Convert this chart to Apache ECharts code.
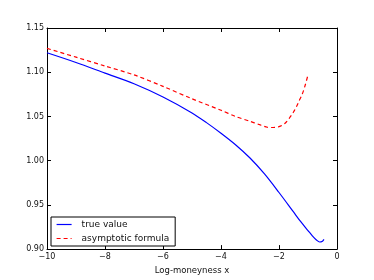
<!DOCTYPE html>
<html><head><meta charset="utf-8">
<script src="https://cdn.jsdelivr.net/npm/echarts@6/dist/echarts.min.js"></script>
<style>html,body{margin:0;padding:0;background:#fff}#c{width:374px;height:280px}</style>
</head><body><div id="c"></div>
<script>
var seriesNames = ['true value', 'asymptotic formula'];
var trueX = [-10, -9, -8, -7, -6, -5, -4.5, -4, -3.5, -3, -2.5, -2, -1.5, -1.25, -1, -0.85, -0.7, -0.6, -0.5, -0.45];
var trueY = [1.122, 1.111, 1.099, 1.087, 1.072, 1.054, 1.043, 1.031, 1.018, 1.003, 0.985, 0.964, 0.942, 0.931, 0.921, 0.915, 0.910, 0.908, 0.909, 0.911];
var asymX = [-10, -9, -8, -7, -6, -5, -4, -3.5, -3, -2.7, -2.4, -2.2, -2.0, -1.8, -1.6, -1.5, -1.4, -1.3, -1.2, -1.1, -1.0];
var asymY = [1.127, 1.117, 1.107, 1.097, 1.084, 1.070, 1.057, 1.050, 1.0445, 1.041, 1.0378, 1.0375, 1.0385, 1.042, 1.050, 1.055, 1.061, 1.068, 1.075, 1.085, 1.097];
var xLabel = 'Log-moneyness x';

function pairs(xs, ys){ return xs.map(function(x,i){ return [x, ys[i]]; }); }
var FONT = 'DejaVu Sans';
var chart = echarts.init(document.getElementById('c'), null, {renderer:'canvas'});
var tickCommon = {show:true, inside:true, length:4, lineStyle:{color:'#000', width:1}};
chart.setOption({
  animation:false,
  backgroundColor:'#fff',
  grid:{left:47, top:28, width:290, height:223, containLabel:false},
  xAxis:[{
    type:'value', min:-10, max:0, interval:2, position:'bottom',
    name:xLabel, nameLocation:'middle', nameGap:15,
    nameTextStyle:{fontFamily:FONT, fontSize:8.5, color:'#111'},
    axisLine:{show:true, onZero:false, lineStyle:{color:'#000', width:1}},
    axisTick:tickCommon,
    axisLabel:{fontFamily:FONT, fontSize:8, color:'#111', margin:4,
      formatter:function(v){ return v < 0 ? '\u2212' + Math.abs(v) : String(v); }},
    splitLine:{show:false}
  },{
    type:'value', min:-10, max:0, interval:2, position:'top',
    axisLine:{show:true, onZero:false, lineStyle:{color:'#000', width:1}},
    axisTick:tickCommon, axisLabel:{show:false}, splitLine:{show:false}
  }],
  yAxis:[{
    type:'value', min:0.90, max:1.15, interval:0.05, position:'left',
    axisLine:{show:true, onZero:false, lineStyle:{color:'#000', width:1}},
    axisTick:tickCommon,
    axisLabel:{fontFamily:FONT, fontSize:8, color:'#111', margin:3,
      formatter:function(v){ return v.toFixed(2); }},
    splitLine:{show:false}
  },{
    type:'value', min:0.90, max:1.15, interval:0.05, position:'right',
    axisLine:{show:true, onZero:false, lineStyle:{color:'#000', width:1}},
    axisTick:tickCommon, axisLabel:{show:false}, splitLine:{show:false}
  }],
  legend:{
    orient:'vertical', left:51, top:217, padding:[3,6,3,5],
    borderColor:'#000', borderWidth:1, backgroundColor:'#fff',
    itemWidth:15, itemHeight:8, itemGap:5,
    itemStyle:{opacity:0},
    lineStyle:{width:1.2},
    textStyle:{fontFamily:FONT, fontSize:9, color:'#111', padding:[0,0,0,5]},
    data:seriesNames
  },
  series:[{
    name:seriesNames[0], type:'line', data:pairs(trueX, trueY), smooth:0.3,
    showSymbol:false, symbol:'none', lineStyle:{color:'#0000ff', width:1.2}, itemStyle:{color:'#0000ff'}
  },{
    name:seriesNames[1], type:'line', data:pairs(asymX, asymY), smooth:0.3,
    showSymbol:false, symbol:'none', lineStyle:{color:'#ff0000', width:1.2, type:[4,3]}, itemStyle:{color:'#ff0000'}
  }]
});
</script></body></html>
